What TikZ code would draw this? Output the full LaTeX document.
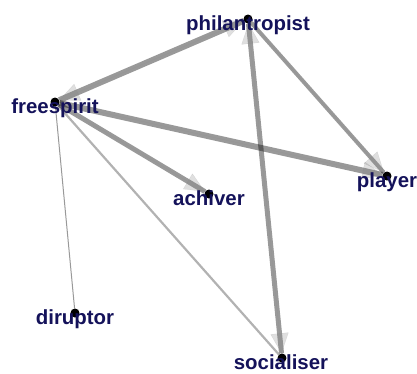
\documentclass[tikz,border=0pt]{standalone}
\usepackage{fontspec}
\setmainfont{Liberation Sans}
\usetikzlibrary{arrows.meta,backgrounds}
\definecolor{labelblue}{RGB}{20,18,90}

\begin{document}
\begin{tikzpicture}[x=1bp,y=-1bp,
  vtx/.style={circle,fill=black,inner sep=0pt,minimum size=9bp},
  lbl/.style={anchor=base,text=labelblue,inner sep=0pt,font=\fontsize{20.5}{22}\selectfont\bfseries},
  link/.style={draw=black,draw opacity=0.4},
  tip/.style={postaction={draw=gray,draw opacity=0.25,fill opacity=0.25,line width=0.2bp,-{Triangle[length=20bp,width=18bp]}}},
  tips/.style={postaction={draw=gray,draw opacity=0.25,fill opacity=0.25,line width=0.2bp,{Triangle[length=20bp,width=18bp]}-{Triangle[length=20bp,width=18bp]}}}]
  \useasboundingbox (0,0) rectangle (417,374);

  %vertices
  \node[vtx] (phil) at (248,19) {};
  \node[vtx] (free) at (55,102) {};
  \node[vtx] (play) at (387,176) {};
  \node[vtx] (achi) at (209,194) {};
  \node[vtx] (dirp) at (75,313) {};
  \node[vtx] (soci) at (282,358) {};

  %labels
  \node[lbl] (phil-l) at (248,30) {philantropist};
  \node[lbl] (free-l) at (55,113) {freespirit};
  \node[lbl] (play-l) at (387,187) {player};
  \node[lbl] (achi-l) at (209,205) {achiver};
  \node[lbl] (dirp-l) at (75,324) {diruptor};
  \node[lbl] (soci-l) at (281,369) {socialiser};

  %edges
  \begin{scope}[on background layer]
    \draw[link,line width=1bp] (free) -- (dirp);
    \draw[link,line width=2.2bp,draw opacity=0.3] (free) -- (soci);
    \draw[link,tip,line width=4bp] (phil) -- (play);
    \draw[link,tip,line width=5bp] (free) -- (achi);
    \draw[link,tip,line width=6bp] (free) -- (play);
    \draw[link,tips,line width=6bp] (free) -- (phil);
    \draw[link,tips,line width=5bp] (phil) -- (soci);
  \end{scope}
\end{tikzpicture}
\end{document}
